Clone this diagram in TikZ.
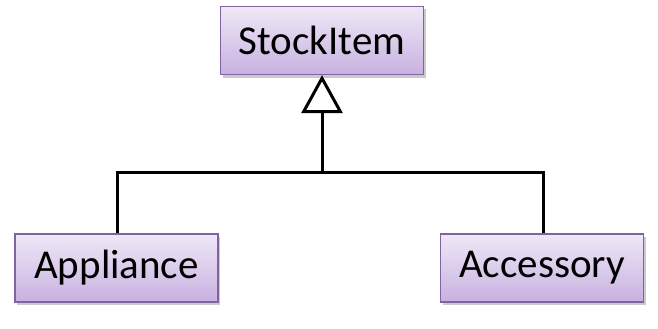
\documentclass[tikz,border=0pt]{standalone}
\usepackage{fontspec}
\setmainfont{Carlito}
\usetikzlibrary{shadows,arrows.meta}
\definecolor{boxtop}{HTML}{EFE8F7}
\definecolor{boxbot}{HTML}{C7B1E0}
\definecolor{boxline}{HTML}{8064A2}
\tikzset{
  cls/.style={draw=boxline, line width=1.2pt, top color=boxtop, bottom color=boxbot,
    minimum width=203pt, minimum height=68pt, inner sep=0pt,
    font=\fontsize{41}{48}\selectfont,
    drop shadow={shadow xshift=2pt, shadow yshift=-3pt, opacity=0.35, fill=black!60}},
  conn/.style={line width=3pt, black},
  inherit/.style={-{Triangle[open, length=38pt, width=41pt, line width=3pt]}}
}
\begin{document}
\begin{tikzpicture}[x=1pt,y=-1pt]
\useasboundingbox (0,0) rectangle (658,329);
\node[cls] (stock) at (322,40.5) {StockItem};
\node[cls] (appl) at (116.5,268) {Appliance};
\node[cls] (acc) at (542,268) {Accessory};
\coordinate (j) at (322,172);
\draw[conn] (appl.north -| 117,0) |- (j) -| (acc.north -| 543,0);
\draw[conn, inherit] (j) -- (stock.south);
\end{tikzpicture}
\end{document}
